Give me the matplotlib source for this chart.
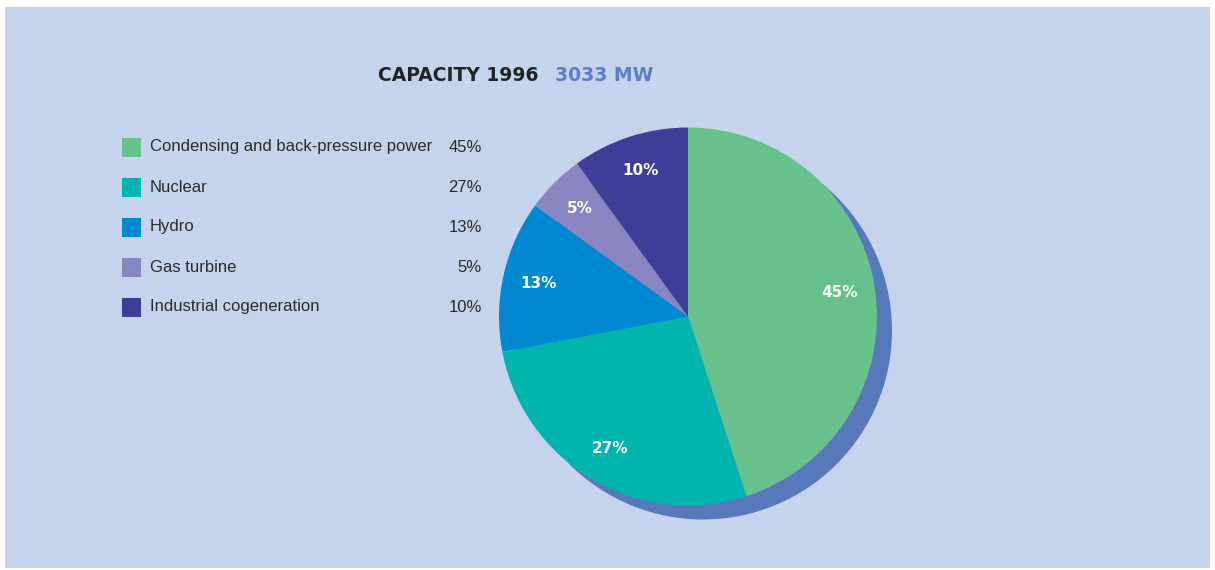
import matplotlib
matplotlib.use("Agg")
import matplotlib.pyplot as plt
from matplotlib.patches import Rectangle, Circle

# data
labels = ["Condensing and back-pressure power", "Nuclear", "Hydro",
          "Gas turbine", "Industrial cogeneration"]
shares = [45, 27, 13, 5, 10]
colors = ["#66c18c", "#00b5ad", "#0088d0", "#8a84c0", "#3e3e98"]
title_left = "CAPACITY 1996"
title_right = "3033 MW"

W, H = 1215, 570
fig = plt.figure(figsize=(W / 100, H / 100), dpi=100, facecolor="white")
ax = fig.add_axes([0, 0, 1, 1])

# background panel
ax.add_patch(Rectangle((5, 2), 1205, 561, facecolor="#c5d4ec", edgecolor="none", zorder=0))

# pie with drop shadow
cx, cy, r = 688, H - 316.5, 189
ax.add_patch(Circle((cx + 15, cy - 14), r, facecolor="#5878bc", edgecolor="none", zorder=1))
wedges, texts, autotexts = ax.pie(
    shares, colors=colors, startangle=90, counterclock=False,
    center=(cx, cy), radius=r, frame=True,
    autopct=lambda p: "%.0f%%" % p, pctdistance=0.81,
    wedgeprops=dict(linewidth=0, zorder=2),
    textprops=dict(color="white", fontsize=11, fontweight="bold",
                   family="DejaVu Sans"))
for t in autotexts:
    t.set_zorder(3)
ax.set_xlim(0, W)
ax.set_ylim(0, H)
ax.set_aspect("auto")
ax.axis("off")

# legend
for i, (lab, val, col) in enumerate(zip(labels, shares, colors)):
    yc = H - (147 + 40 * i)
    ax.add_patch(Rectangle((122, yc - 9.5), 19, 19, facecolor=col, edgecolor="none", zorder=2))
    ax.text(150, yc, lab, fontsize=12, family="Liberation Sans",
            color="#2a2a2a", va="center", ha="left")
    ax.text(482, yc, "%d%%" % val, fontsize=12, family="Liberation Sans",
            color="#2a2a2a", va="center", ha="right")

# title
ax.text(378, H - 81, title_left, fontsize=13.5, family="DejaVu Sans",
        fontweight="bold", color="#222226", va="baseline", ha="left")
ax.text(555, H - 81, title_right, fontsize=13.5, family="DejaVu Sans",
        fontweight="bold", color="#5b7fc4", va="baseline", ha="left")

fig.savefig("out.png", dpi=100, facecolor="white")
